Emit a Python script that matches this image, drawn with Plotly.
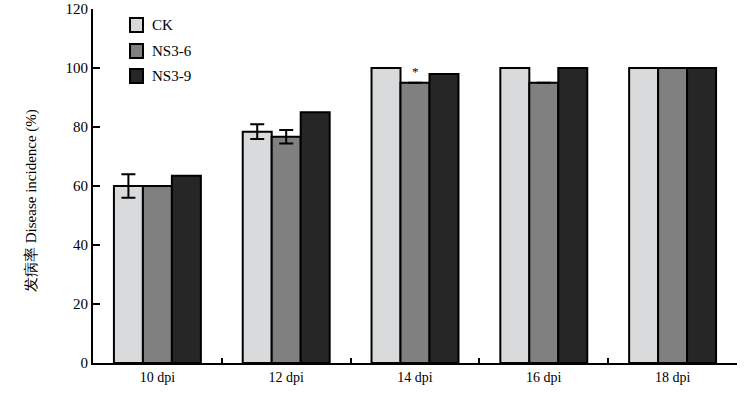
import plotly.graph_objects as go

categories = ["10 dpi", "12 dpi", "14 dpi", "16 dpi", "18 dpi"]
series_names = ["CK", "NS3-6", "NS3-9"]
ck = [60, 78.4, 100, 100, 100]
ck_err = [4, 2.5, 0, 0, 0]
ns36 = [60, 76.7, 95, 95, 100]
ns36_err = [0, 2.3, 0, 0, 0]
ns39 = [63.5, 85, 98, 100, 100]
ns39_err = [0, 0, 0, 0, 0]
colors = ["#d9dadb", "#808080", "#262626"]
y_ticks = [0, 20, 40, 60, 80, 100, 120]
y_title = "发病率 Disease incidence (%)"

FONT = "Times New Roman, Liberation Serif, serif"

fig = go.Figure()
for name, vals, errs, col in zip(series_names, [ck, ns36, ns39], [ck_err, ns36_err, ns39_err], colors):
    show_err = any(e > 0 for e in errs)
    fig.add_trace(go.Bar(
        x=categories, y=vals, name=name,
        marker=dict(color=col, line=dict(color="black", width=2)),
        error_y=dict(type="data", array=[e if e > 0 else None for e in errs], visible=show_err,
                     color="black", thickness=2, width=7),
        showlegend=False, hoverinfo="skip",
    ))

# significance mark on NS3-6 at 14 dpi
fig.add_annotation(x="14 dpi", y=ns36[2], text="*", showarrow=False,
                   yanchor="bottom", yshift=2, font=dict(family=FONT, size=13, color="black"))

# manual legend
W, H = 754, 397
left, right, top, bottom = 93, 17, 9, 34
pw, ph = W - left - right, H - top - bottom
def px2paper(xp, yp):
    return (xp - left) / pw, (H - bottom - yp) / ph

leg_y = [25, 51, 76]
for name, col, yc in zip(series_names, colors, leg_y):
    x0, y0 = px2paper(130, yc + 7)
    x1, y1 = px2paper(143, yc - 7)
    fig.add_shape(type="rect", xref="paper", yref="paper", x0=x0, x1=x1, y0=y0, y1=y1,
                  fillcolor=col, line=dict(color="black", width=2))
    tx, ty = px2paper(150, yc)
    fig.add_annotation(xref="paper", yref="paper", x=tx, y=ty, text=name, showarrow=False,
                       xanchor="left", yanchor="middle", font=dict(family=FONT, size=15, color="black"))

# y-axis title
tx, ty = px2paper(31, 201)
fig.add_annotation(xref="paper", yref="paper", x=tx, y=ty, text=y_title, showarrow=False,
                   textangle=-90, xanchor="center", yanchor="middle",
                   font=dict(family=FONT, size=15, color="black"))

fig.update_layout(
    width=W, height=H,
    margin=dict(l=left, r=right, t=top, b=bottom, autoexpand=False),
    plot_bgcolor="white", paper_bgcolor="white",
    barmode="group", bargap=0.325, bargroupgap=0,
    font=dict(family=FONT, size=14, color="black"),
    showlegend=False,
)
fig.update_xaxes(
    type="category", showline=True, linecolor="black", linewidth=2,
    ticks="inside", tickson="boundaries", ticklen=5, tickwidth=2, tickcolor="black",
    showgrid=False, tickfont=dict(family=FONT, size=14), zeroline=False, automargin=False,
)
fig.update_yaxes(
    range=[0, 120], tickvals=y_ticks, showline=True, linecolor="black", linewidth=2,
    ticks="inside", ticklen=7, tickwidth=2, tickcolor="black", showgrid=False, zeroline=False,
    tickfont=dict(family=FONT, size=15), automargin=False,
)

fig.write_html("out.html", config={"displayModeBar": False},
               post_script="document.body.style.margin='0';document.body.style.overflow='hidden';")
